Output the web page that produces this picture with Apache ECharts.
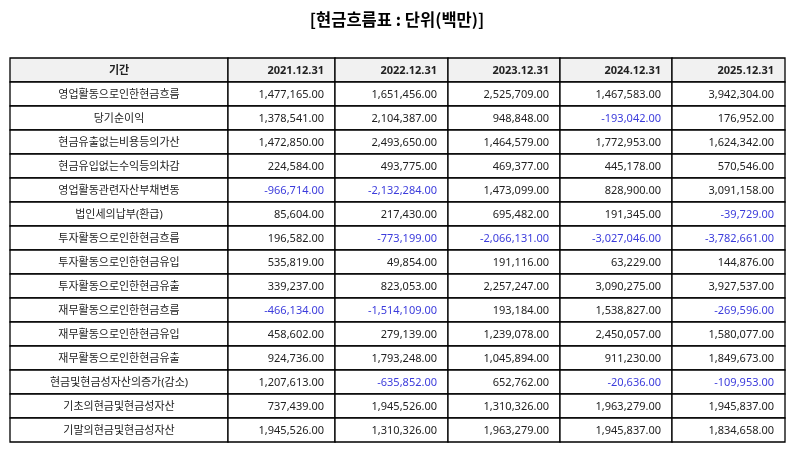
<!DOCTYPE html>
<html>
<head>
<meta charset="utf-8">
<script src="https://cdn.jsdelivr.net/npm/echarts@6/dist/echarts.min.js"></script>
<style>html,body{margin:0;padding:0;background:#fff}#c{width:794px;height:452px}</style>
</head>
<body>
<div id="c"></div>
<script>
var titleText = '[현금흐름표 : 단위(백만)]';
var headerLabel = '기간';
var periods = ['2021.12.31', '2022.12.31', '2023.12.31', '2024.12.31', '2025.12.31'];
var categories = ['영업활동으로인한현금흐름', '당기순이익', '현금유출없는비용등의가산', '현금유입없는수익등의차감', '영업활동관련자산부채변동', '법인세의납부(환급)', '투자활동으로인한현금흐름', '투자활동으로인한현금유입', '투자활동으로인한현금유출', '재무활동으로인한현금흐름', '재무활동으로인한현금유입', '재무활동으로인한현금유출', '현금및현금성자산의증가(감소)', '기초의현금및현금성자산', '기말의현금및현금성자산'];
var v2021 = [1477165, 1378541, 1472850, 224584, -966714, 85604, 196582, 535819, 339237, -466134, 458602, 924736, 1207613, 737439, 1945526];
var v2022 = [1651456, 2104387, 2493650, 493775, -2132284, 217430, -773199, 49854, 823053, -1514109, 279139, 1793248, -635852, 1945526, 1310326];
var v2023 = [2525709, 948848, 1464579, 469377, 1473099, 695482, -2066131, 191116, 2257247, 193184, 1239078, 1045894, 652762, 1310326, 1963279];
var v2024 = [1467583, -193042, 1772953, 445178, 828900, 191345, -3027046, 63229, 3090275, 1538827, 2450057, 911230, -20636, 1963279, 1945837];
var v2025 = [3942304, 176952, 1624342, 570546, 3091158, -39729, -3782661, 144876, 3927537, -269596, 1580077, 1849673, -109953, 1945837, 1834658];
var seriesValues = [v2021, v2022, v2023, v2024, v2025];

// layout (column edges in axis units)
var colEdges = [0, 218, 325, 438, 550, 662, 775];
var FONT = '"Noto Sans", "Noto Sans CJK KR", sans-serif';

function fmt(v) {
  return v.toLocaleString('en-US', {minimumFractionDigits: 2, maximumFractionDigits: 2});
}

// cells: [col, row, text, kind]  kind: 0 header label, 1 header period, 2 row label, 3 value, 4 negative value
var cells = [];
cells.push([0, 0, headerLabel, 0]);
periods.forEach(function (p, i) { cells.push([i + 1, 0, p, 1]); });
categories.forEach(function (c, r) {
  cells.push([0, r + 1, c, 2]);
  seriesValues.forEach(function (arr, i) {
    cells.push([i + 1, r + 1, fmt(arr[r]), arr[r] < 0 ? 4 : 3]);
  });
});

var chart = echarts.init(document.getElementById('c'));
chart.setOption({
  animation: false,
  backgroundColor: '#fff',
  title: {
    text: titleText,
    left: 'center',
    top: 6,
    textStyle: {fontSize: 16.5, fontWeight: 'bold', color: '#000', fontFamily: '"Noto Sans CJK KR", sans-serif'}
  },
  grid: {left: 10, right: 9, top: 58, bottom: 10},
  xAxis: {type: 'value', min: 0, max: colEdges[colEdges.length - 1], show: false},
  yAxis: {type: 'value', min: 0, max: categories.length + 1, inverse: true, show: false},
  series: [{
    type: 'custom',
    data: cells,
    renderItem: function (params, api) {
      var col = api.value(0), row = api.value(1);
      var kind = cells[params.dataIndex][3];
      var text = cells[params.dataIndex][2];
      var p0 = api.coord([colEdges[col], row]);
      var p1 = api.coord([colEdges[col + 1], row + 1]);
      var x = p0[0], y = p0[1], w = p1[0] - p0[0], h = p1[1] - p0[1];
      var isHeader = kind <= 1;
      var centered = (kind === 0 || kind === 2);
      return {
        type: 'group',
        children: [{
          type: 'rect',
          shape: {x: x, y: y, width: w, height: h},
          style: {fill: isHeader ? '#f1f1f1' : '#fff', stroke: '#000', lineWidth: 1.3}
        }, {
          type: 'text',
          style: {
            x: centered ? x + w / 2 : x + w - 11,
            y: y + h / 2 + 0.5,
            text: text,
            textAlign: centered ? 'center' : 'right',
            textVerticalAlign: 'middle',
            fill: kind === 4 ? '#3c3cdc' : '#222',
            fontSize: 11,
            fontWeight: isHeader ? 'bold' : 'normal',
            fontFamily: FONT
          }
        }]
      };
    }
  }]
});
</script>
</body>
</html>
